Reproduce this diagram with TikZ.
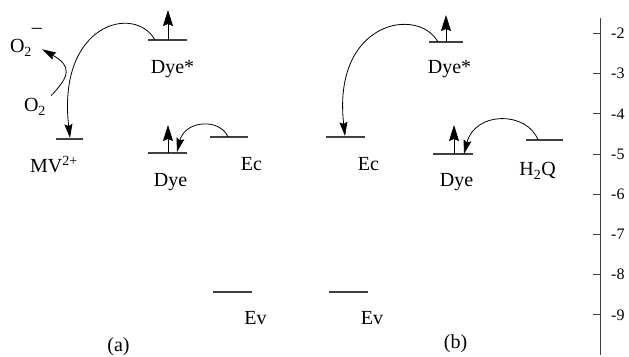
\documentclass[tikz,border=0pt]{standalone}
\usepackage{fontspec}
\setmainfont{Liberation Serif}
\usetikzlibrary{arrows.meta,calc}

\begin{document}
\begin{tikzpicture}[
  x=1pt,y=1pt,
  >={Stealth[length=14pt,width=8pt,inset=2pt]},
  lev/.style={line width=1.1pt,draw=black!75},
  spin/.style={-{Stealth[length=16pt,width=10pt,inset=2pt]},line width=0.8pt},
  etr/.style={->,line width=0.8pt},
  lbl/.style={anchor=base,inner sep=0pt,font=\fontsize{20}{23}\selectfont},
  scl/.style={anchor=west,inner sep=0pt,font=\fontsize{16}{18}\selectfont},
]
\useasboundingbox (0,0) rectangle (629,356);

% energy levels: name / left / right / height
\foreach \n/\xa/\xb/\y in {aDyeS/148/187/316, aMV/56/83/217, aDye/148/187/203, aEc/210/248/219, aEv/213/252/64,
  bDyeS/429/463/314, bEc/326/365/219, bDye/433/473/202, bHQ/526/563/216, bEv/329/368/64}
  \draw[lev] (\xa,\y) coordinate (\n-l) -- (\xb,\y) coordinate (\n-r);

% panel (a)
\node[lbl] (aDyeSt) at (172.5,282) {Dye*};
\node[lbl] (aMVt)   at (54,183)    {MV\textsuperscript{2+}};
\node[lbl] (aDyet)  at (170.5,169) {Dye};
\node[lbl] (aEct)   at (251.5,185) {Ec};
\node[lbl] (aEvt)   at (255.5,31)  {Ev};
\node[lbl] (aO2m)   at (26,303)    {O\textsubscript{2}\raisebox{0.95em}{--}};
\node[lbl] (aO2)    at (35,244)    {O\textsubscript{2}};
\node[lbl] (atag)   at (118.5,5)   {(a)};

\draw[spin] ($(aDyeS-l)+(20,0)$) -- ++(0,30);
\draw[spin] ($(aDye-l)+(20,0)$) -- ++(0,28);
\draw[etr] ($(aDyeS-l)+(7,0)$) .. controls (135,352) and (57,333) .. ($(aMV-l)+(14,1)$);
\draw[etr] ($(aEc-l)+(18,0)$) .. controls (220,238) and (185,236) .. ($(aDye-l)+(29,1)$);
\draw[etr] ($(aO2.north east)+(5,3)$) .. controls (70,280) and (72,290) .. ($(aO2m.south east)+(0,7)$);

% panel (b)
\node[lbl] (bDyeSt) at (449.5,282) {Dye*};
\node[lbl] (bEct)   at (368.5,185) {Ec};
\node[lbl] (bDyet)  at (456.5,169) {Dye};
\node[lbl] (bHQt)   at (537.5,180) {H\textsubscript{2}Q};
\node[lbl] (bEvt)   at (372,31)    {Ev};
\node[lbl] (btag)   at (455.5,8)   {(b)};

\draw[spin] ($(bDyeS-l)+(17,0)$) -- ++(0,27);
\draw[spin] ($(bDye-l)+(21,0)$) -- ++(0,29);
\draw[etr] ($(bDyeS-l)+(9,0)$) .. controls (418,350) and (332,335) .. ($(bEc-l)+(19,1)$);
\draw[etr] ($(bHQ-l)+(12,0)$) .. controls (527,245) and (475,245) .. ($(bDye-l)+(31,0)$);

% energy scale
\draw[line width=0.8pt,draw=black!75] (600,1) coordinate (ax-b) -- (600,338) coordinate (ax-t);
\foreach \v in {2,...,9}{
  \draw[line width=0.8pt,draw=black!75] (593,{322.5-40.2*(\v-2)}) -- (600,{322.5-40.2*(\v-2)});
  \node[scl] (e\v) at (611,{322.5-40.2*(\v-2)}) {-\v};
}
\end{tikzpicture}
\end{document}
